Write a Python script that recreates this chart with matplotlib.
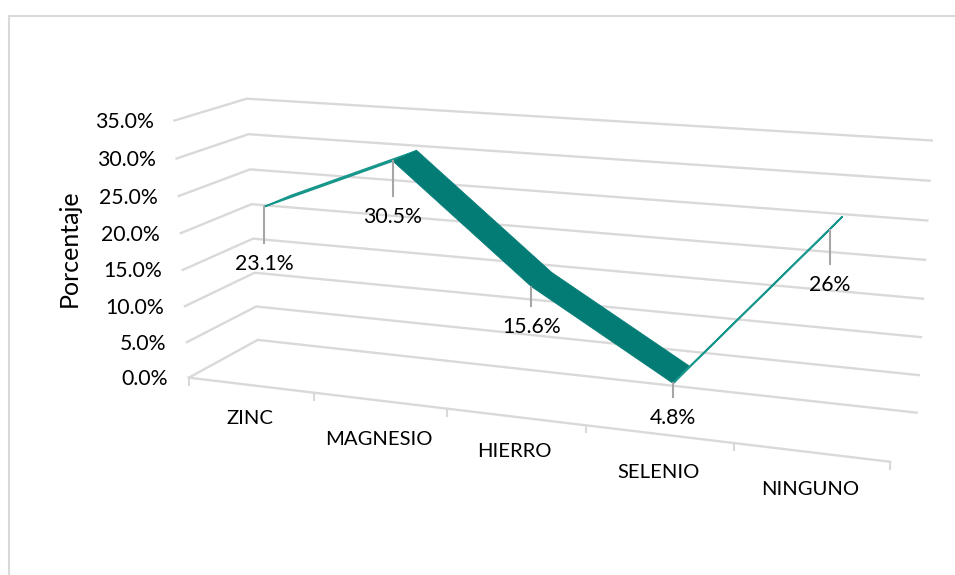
import numpy as np
import matplotlib
matplotlib.use("Agg")
import matplotlib.pyplot as plt

plt.rcParams["font.family"] = ["Lato", "DejaVu Sans"]

categories = ["ZINC", "MAGNESIO", "HIERRO", "SELENIO", "NINGUNO"]
values = [23.1, 30.5, 15.6, 4.8, 26.0]
value_labels = ["23.1%", "30.5%", "15.6%", "4.8%", "26%"]
y_ticks = [0, 5, 10, 15, 20, 25, 30, 35]
y_tick_labels = ["0.0%", "5.0%", "10.0%", "15.0%", "20.0%", "25.0%", "30.0%", "35.0%"]

GRID = "#d9d9d9"
TEAL = "#027c75"
EDGE = "#17968b"
DEPTH_FRONT = 0.3
DEPTH_BACK = 0.7

# calibration of the 3d box: (category, depth, value) -> pixel
box_3d = np.array([
    [0, 0, 0], [0, 0, 35], [0, 1, 0], [0, 1, 35], [5, 1, 0], [5, 1, 35], [5, 0, 0],
    [1, 0, 0], [2, 0, 0], [3, 0, 0], [4, 0, 0],
], dtype=float)
box_px = np.array([
    [189.3, 377.7], [174, 120.7], [257.3, 340], [247.3, 98.3], [916.7, 412.7], [931.7, 140.7], [890.7, 461.7],
    [314.7, 393], [446.7, 408.7], [586, 425], [734, 443],
])


def fit_projection(pts, px):
    rows = []
    rhs = []
    for (a, b, c), (x, y) in zip(pts, px):
        rows.append([a, b, c, 1, 0, 0, 0, 0, -x * a, -x * b, -x * c])
        rhs.append(x)
        rows.append([0, 0, 0, 0, a, b, c, 1, -y * a, -y * b, -y * c])
        rhs.append(y)
    sol = np.linalg.lstsq(np.array(rows), np.array(rhs), rcond=None)[0]
    return np.append(sol, 1).reshape(3, 4)


P = fit_projection(box_3d, box_px)


def project(cat, depth, val):
    p = P @ np.array([cat, depth, val, 1.0])
    return p[0] / p[2], p[1] / p[2]


fig = plt.figure(figsize=(9.55, 5.75), dpi=100)
ax = fig.add_axes([0, 0, 1, 1])
ax.set_xlim(0, 955)
ax.set_ylim(575, 0)
ax.axis("off")

# chart border
ax.plot([8.5, 8.5, 955], [575, 15.5, 15.5], color=GRID, lw=1.5)

# gridlines on side wall and back wall
for tick, lab in zip(y_ticks, y_tick_labels):
    a = project(0, 0, tick)
    b = project(0, 1, tick)
    c = project(5, 1, tick)
    ax.plot([a[0], b[0], c[0]], [a[1], b[1], c[1]], color=GRID, lw=1.7, solid_joinstyle="miter")
    ax.text(a[0] - 21, a[1] + 1.5, lab, ha="right", va="center", fontsize=15.3, color="black")

# floor front edge and ticks
a = project(0, 0, 0)
b = project(5, 0, 0)
ax.plot([a[0], b[0]], [a[1], b[1]], color=GRID, lw=1.7)
for i in range(6):
    x, y = project(i, 0, 0)
    ax.plot([x, x], [y, y + 7], color=GRID, lw=1.5)

label_dy = [33, 39, 35, 38, 37]
for i, name in enumerate(categories):
    x, y = project(i + 0.5, 0, 0)
    ax.text(x - 1, y + label_dy[i], name, ha="center", va="center", fontsize=14.6, color="black")

ax.text(69, 248, "Porcentaje", rotation=90, ha="center", va="center", fontsize=18, color="black")

# ribbon, the rising parts are almost edge on so they show mostly the lighter edge
for i in range(len(values) - 1):
    corners = [
        project(i + 0.5, DEPTH_FRONT, values[i]),
        project(i + 1.5, DEPTH_FRONT, values[i + 1]),
        project(i + 1.5, DEPTH_BACK, values[i + 1]),
        project(i + 0.5, DEPTH_BACK, values[i]),
    ]
    rising = values[i + 1] > values[i]
    ax.fill([c[0] for c in corners], [c[1] for c in corners], facecolor=TEAL,
            edgecolor=EDGE if rising else TEAL, lw=1.2 if rising else 0.5, zorder=3)

# leader lines and value labels
leader_len = [36, 35, 19, 14, 34]
for i, lab in enumerate(value_labels):
    x, y = project(i + 0.5, DEPTH_FRONT, values[i])
    ax.plot([x, x], [y, y + leader_len[i]], color="#a6a6a6", lw=1.5, zorder=4)
    ax.text(x, y + leader_len[i] + 21, lab, ha="center", va="center", fontsize=15.3, color="black", zorder=5)

fig.savefig("out.png", dpi=100)
